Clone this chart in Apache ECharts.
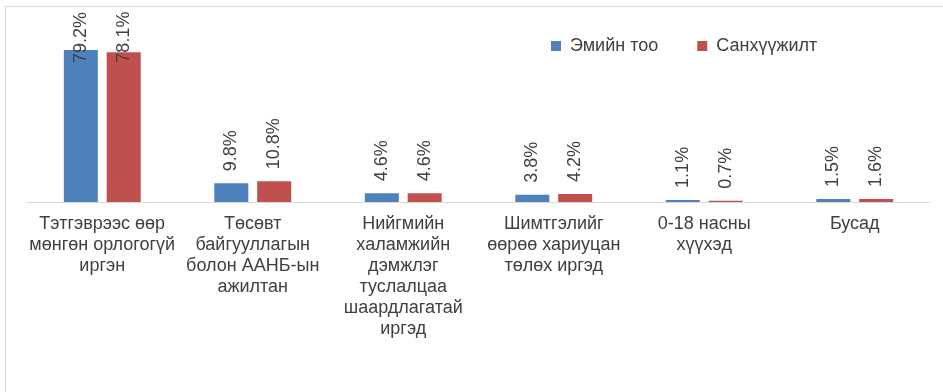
<!DOCTYPE html>
<html>
<head>
<meta charset="utf-8">
<style>
  html, body { margin: 0; padding: 0; background: #fff; }
  #chart { width: 943px; height: 392px; }
</style>
<script src="https://cdn.jsdelivr.net/npm/echarts@6/dist/echarts.min.js"></script>
</head>
<body>
<div id="chart"></div>
<script>
// Categories (line breaks as shown under the axis)
const categories = [
  'Тэтгэврээс өөр\nмөнгөн орлогогүй\nиргэн',
  'Төсөвт\nбайгууллагын\nболон ААНБ-ын\nажилтан',
  'Нийгмийн\nхаламжийн\nдэмжлэг\nтуслалцаа\nшаардлагатай\nиргэд',
  'Шимтгэлийг\nөөрөө хариуцан\nтөлөх иргэд',
  '0-18 насны\nхүүхэд',
  'Бусад'
];
const seriesNames = ['Эмийн тоо', 'Санхүүжилт'];
const medicineCount = [79.2, 9.8, 4.6, 3.8, 1.1, 1.5];
const funding = [78.1, 10.8, 4.6, 4.2, 0.7, 1.6];

const FONT = '"Liberation Sans", Arial, sans-serif';
const TEXT = '#404040';

// Tall bars whose labels would overflow the plot get pulled down inside.
function withLabels(values, tallDistance) {
  return values.map((v, i) => i === 0
    ? { value: v, label: { distance: tallDistance } }
    : v);
}

const baseLabel = {
  show: true,
  position: 'top',
  rotate: 90,
  align: 'left',
  verticalAlign: 'middle',
  distance: 12,
  formatter: p => p.value.toFixed(1) + '%',
  color: TEXT,
  fontFamily: FONT,
  fontSize: 18
};

const chart = echarts.init(document.getElementById('chart'), null, { renderer: 'canvas' });
chart.setOption({
  animation: false,
  backgroundColor: '#fff',
  textStyle: { fontFamily: FONT },
  graphic: [{
    type: 'rect',
    shape: { x: 5.5, y: 6.5, width: 1000, height: 500 },
    style: { fill: 'none', stroke: '#d9d9d9', lineWidth: 1 },
    silent: true,
    z: -1
  }],
  legend: {
    data: seriesNames,
    left: 546,
    top: 32,
    icon: 'rect',
    itemWidth: 10,
    itemHeight: 10,
    itemGap: 39,
    textStyle: { color: TEXT, fontFamily: FONT, fontSize: 18, padding: [0, 0, 0, 4] }
  },
  grid: { left: 27, right: 13, top: 48.5, bottom: 190, containLabel: false },
  xAxis: {
    type: 'category',
    data: categories,
    axisLine: { show: true, lineStyle: { color: '#d9d9d9', width: 1 } },
    axisTick: { show: false },
    axisLabel: {
      interval: 0,
      margin: 12,
      color: TEXT,
      fontFamily: FONT,
      fontSize: 18,
      lineHeight: 21,
      align: 'center'
    }
  },
  yAxis: {
    type: 'value',
    min: 0,
    max: 80,
    show: false,
    splitLine: { show: false }
  },
  series: [
    {
      name: seriesNames[0],
      type: 'bar',
      data: withLabels(medicineCount, -13),
      barWidth: '22.6%',
      barGap: '26%',
      itemStyle: { color: '#4F81BD' },
      label: baseLabel
    },
    {
      name: seriesNames[1],
      type: 'bar',
      data: withLabels(funding, -10.5),
      barWidth: '22.6%',
      barGap: '26%',
      itemStyle: { color: '#C0504D' },
      label: baseLabel
    }
  ]
});
</script>
</body>
</html>
